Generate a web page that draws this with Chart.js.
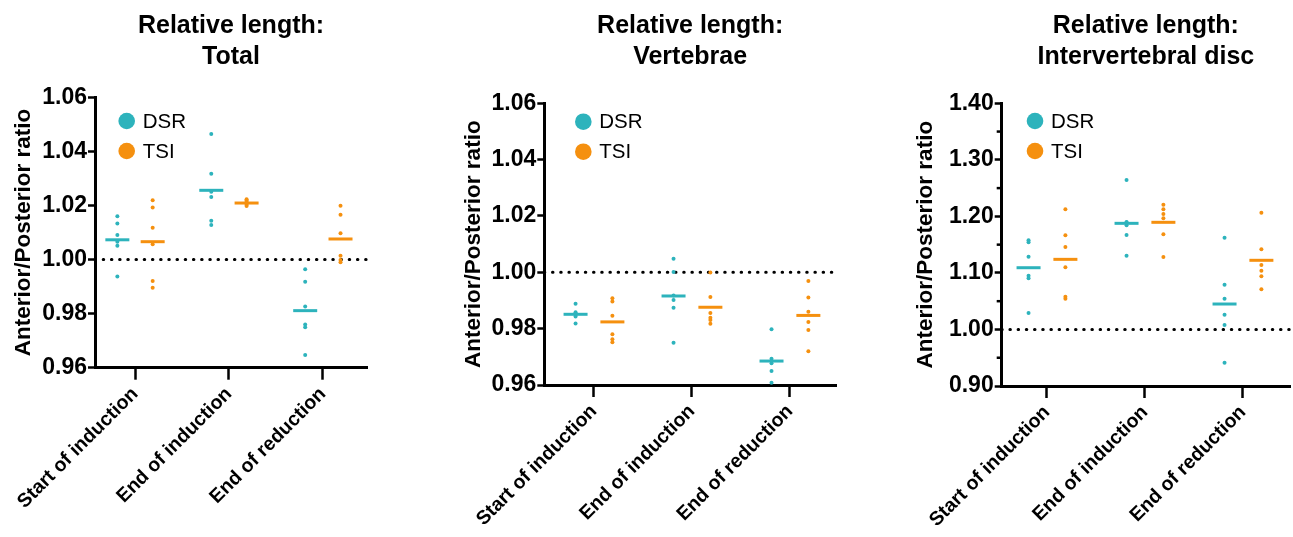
<!DOCTYPE html>
<html><head><meta charset="utf-8">
<script src="https://cdn.jsdelivr.net/npm/chart.js@4.4.1/dist/chart.umd.min.js"></script>
<style>
html,body{margin:0;padding:0;background:#fff;overflow:hidden;}
#wrap{position:relative;width:1293px;height:537px;overflow:hidden;background:#fff;}
#wrap canvas{position:absolute;left:0;top:0;}
</style></head><body>
<div id="wrap">
<canvas id="c1" width="1340" height="537"></canvas>
<canvas id="c2" width="1340" height="537"></canvas>
<canvas id="c3" width="1340" height="537"></canvas>
</div>
<script>
// ---------- DATA ----------
const categories = ['Start of induction', 'End of induction', 'End of reduction'];
const seriesNames = ['DSR', 'TSI'];
const referenceValue = 1.00;

// Relative length: Total
const totalDSR = [
  [1.0160, 1.0133, 1.0091, 1.0066, 1.0051, 0.9937],
  [1.0464, 1.0317, 1.0251, 1.0231, 1.0143, 1.0128],
  [0.9964, 0.9918, 0.9826, 0.9760, 0.9750, 0.9647]
];
const totalTSI = [
  [1.0219, 1.0192, 1.0118, 1.0057, 0.9921, 0.9896],
  [1.0223, 1.0218, 1.0213, 1.0208, 1.0203, 1.0198],
  [1.0199, 1.0166, 1.0097, 1.0014, 0.9998, 0.9990]
];
const totalDSRMean = [1.0073, 1.0256, 0.9811];
const totalTSIMean = [1.0066, 1.0209, 1.0076];
const totalTicks = [0.96, 0.98, 1.00, 1.02, 1.04, 1.06];

// Relative length: Vertebrae
const vertDSR = [
  [0.9888, 0.9858, 0.9853, 0.9849, 0.9843, 0.9818],
  [1.0048, 1.0001, 0.9918, 0.9902, 0.9874, 0.9750],
  [0.9798, 0.9693, 0.9685, 0.9677, 0.9650, 0.9608]
];
const vertTSI = [
  [0.9908, 0.9896, 0.9846, 0.9780, 0.9762, 0.9752],
  [0.9999, 0.9912, 0.9856, 0.9839, 0.9831, 0.9817],
  [0.9969, 0.9911, 0.9860, 0.9824, 0.9795, 0.9720]
];
const vertDSRMean = [0.9851, 0.9916, 0.9685];
const vertTSIMean = [0.9824, 0.9876, 0.9847];
const vertTicks = [0.96, 0.98, 1.00, 1.02, 1.04, 1.06];

// Relative length: Intervertebral disc
const discDSR = [
  [1.1577, 1.1541, 1.1286, 1.0950, 1.0904, 1.0290],
  [1.2643, 1.1900, 1.1890, 1.1842, 1.1670, 1.1304],
  [1.1622, 1.0791, 1.0544, 1.0260, 1.0078, 0.9411]
];
const discTSI = [
  [1.2125, 1.1665, 1.1458, 1.1099, 1.0579, 1.0543],
  [1.2206, 1.2125, 1.2042, 1.1966, 1.1683, 1.1281],
  [1.2065, 1.1417, 1.1140, 1.1039, 1.0940, 1.0710]
];
const discDSRMean = [1.1092, 1.1877, 1.0450];
const discTSIMean = [1.1240, 1.1895, 1.1223];
const discTicks = [0.90, 1.00, 1.10, 1.20, 1.30, 1.40];
const discMinorTicks = [0.95, 1.05, 1.15, 1.25, 1.35];

// ---------- STYLE / LAYOUT ----------
const seriesColors = ['#2db3bc', '#f5900f'];
const FONT = '"Liberation Sans", Arial, Helvetica, sans-serif';
const W = 1340, H = 537;
const groupOffset = 0.188;

const panels = [
  { id: 'c1', title: ['Relative length:', 'Total'], dsr: totalDSR, tsi: totalTSI,
    dsrMean: totalDSRMean, tsiMean: totalTSIMean, yTicks: totalTicks, yMinor: [],
    area: { left: 95, right: 367, top: 97.3, bottom: 367.7 }, xRange: [0.574, 3.47],
    yTitleX: 24, legend: { x: 31.7, y: 23.7 } },
  { id: 'c2', title: ['Relative length:', 'Vertebrae'], dsr: vertDSR, tsi: vertTSI,
    dsrMean: vertDSRMean, tsiMean: vertTSIMean, yTicks: vertTicks, yMinor: [],
    area: { left: 544.3, right: 836, top: 103.3, bottom: 385 }, xRange: [0.493, 3.47],
    yTitleX: 474, legend: { x: 39, y: 18.4 } },
  { id: 'c3', title: ['Relative length:', 'Intervertebral disc'], dsr: discDSR, tsi: discTSI,
    dsrMean: discDSRMean, tsiMean: discTSIMean, yTicks: discTicks, yMinor: discMinorTicks,
    area: { left: 1001.7, right: 1290, top: 103.3, bottom: 386 }, xRange: [0.538, 3.48],
    yTitleX: 925.7, legend: { x: 33.3, y: 17.7 } }
];

const extrasPlugin = {
  id: 'extras',
  afterDraw(chart, args, opts) {
    const { ctx, chartArea: a } = chart;
    const ys = chart.scales.y;
    ctx.save();
    ctx.strokeStyle = '#000';
    ctx.lineWidth = 2.5;
    (opts.minor || []).forEach(v => {
      const py = ys.getPixelForValue(v);
      ctx.beginPath();
      ctx.moveTo(a.left - 5, py);
      ctx.lineTo(a.left, py);
      ctx.stroke();
    });
    ctx.font = '20.5px ' + FONT;
    ctx.textBaseline = 'middle';
    ctx.textAlign = 'left';
    seriesNames.forEach((name, i) => {
      const cx = a.left + opts.lx, cy = a.top + opts.ly + i * 30;
      ctx.fillStyle = seriesColors[i];
      ctx.beginPath();
      ctx.arc(cx, cy, 8.3, 0, Math.PI * 2);
      ctx.fill();
      ctx.fillStyle = '#000';
      ctx.fillText(name, cx + 16, cy + 1);
    });
    ctx.restore();
  }
};

function dots(groups, off) {
  const out = [];
  groups.forEach((vals, i) => vals.forEach(v => out.push({ x: i + 1 + off, y: v })));
  return out;
}
function means(vals, off) {
  return vals.map((v, i) => ({ x: i + 1 + off, y: v }));
}

panels.forEach(p => {
  const yAxisW = p.area.left - (p.yTitleX - 13.5 - 4);
  const padLeft = p.area.left - yAxisW;
  const xAxisH = 140;
  const yMin = p.yTicks[0], yMax = p.yTicks[p.yTicks.length - 1];
  const titleLH = 31;
  const titlePadTop = 26 - titleLH / 2;
  const titlePadBottom = p.area.top - titlePadTop - titleLH * 2;

  new Chart(document.getElementById(p.id), {
    type: 'scatter',
    data: {
      datasets: [
        { label: 'DSR mean', data: means(p.dsrMean, -groupOffset), pointStyle: 'line',
          pointRadius: 12, pointBorderWidth: 3, borderColor: seriesColors[0], backgroundColor: seriesColors[0], clip: false },
        { label: 'TSI mean', data: means(p.tsiMean, groupOffset), pointStyle: 'line',
          pointRadius: 12, pointBorderWidth: 3, borderColor: seriesColors[1], backgroundColor: seriesColors[1], clip: false },
        { label: 'DSR', data: dots(p.dsr, -groupOffset), pointRadius: 2, pointBorderWidth: 0,
          backgroundColor: seriesColors[0], borderColor: seriesColors[0], clip: false },
        { label: 'TSI', data: dots(p.tsi, groupOffset), pointRadius: 2, pointBorderWidth: 0,
          backgroundColor: seriesColors[1], borderColor: seriesColors[1], clip: false },
        { type: 'line', label: 'ref', data: [{ x: p.xRange[0], y: referenceValue }, { x: p.xRange[1], y: referenceValue }],
          borderColor: '#000', borderWidth: 3, borderDash: [0.5, 7.7], borderCapStyle: 'round',
          pointRadius: 0, showLine: true, fill: false, clip: false }
      ]
    },
    options: {
      responsive: false,
      animation: false,
      events: [],
      layout: { padding: { left: padLeft, right: W - p.area.right, top: 0, bottom: H - p.area.bottom - xAxisH } },
      plugins: {
        legend: { display: false },
        tooltip: { enabled: false },
        title: {
          display: true, text: p.title, fullSize: false, color: '#000',
          font: { family: FONT, size: 25, weight: 'bold', lineHeight: titleLH / 25 },
          padding: { top: titlePadTop, bottom: titlePadBottom }
        },
        extras: { minor: p.yMinor, lx: p.legend.x, ly: p.legend.y }
      },
      scales: {
        x: {
          type: 'linear', min: p.xRange[0], max: p.xRange[1],
          afterBuildTicks: s => { s.ticks = categories.map((c, i) => ({ value: i + 1 })); },
          afterFit: s => { s.height = xAxisH; s.paddingLeft = 0; s.paddingRight = 0; },
          ticks: {
            autoSkip: false, minRotation: 45, maxRotation: 45, padding: 3, color: '#000',
            font: { family: FONT, size: 19.5, weight: 'bold' },
            callback: v => categories[Math.round(v) - 1] || ''
          },
          grid: { display: true, drawOnChartArea: false, drawTicks: true, tickLength: 12, tickWidth: 2.5, tickColor: '#000' },
          border: { display: true, width: 3, color: '#000' }
        },
        y: {
          type: 'linear', min: yMin, max: yMax,
          afterBuildTicks: s => { s.ticks = p.yTicks.map(v => ({ value: v })); },
          afterFit: s => { s.width = yAxisW; s.paddingTop = 0; s.paddingBottom = 0; },
          ticks: {
            autoSkip: false, padding: 1, color: '#000',
            font: { family: FONT, size: 23, weight: 'bold' },
            callback: v => Number(v).toFixed(2)
          },
          grid: { display: true, drawOnChartArea: false, drawTicks: true, tickLength: 7, tickWidth: 2.5, tickColor: '#000' },
          border: { display: true, width: 3, color: '#000' },
          title: {
            display: true, text: 'Anterior/Posterior ratio', color: '#000',
            font: { family: FONT, size: 22.5, weight: 'bold', lineHeight: 1.2 },
            padding: { top: 4, bottom: 4 }
          }
        }
      }
    },
    plugins: [extrasPlugin]
  });
});
</script>
</body></html>
